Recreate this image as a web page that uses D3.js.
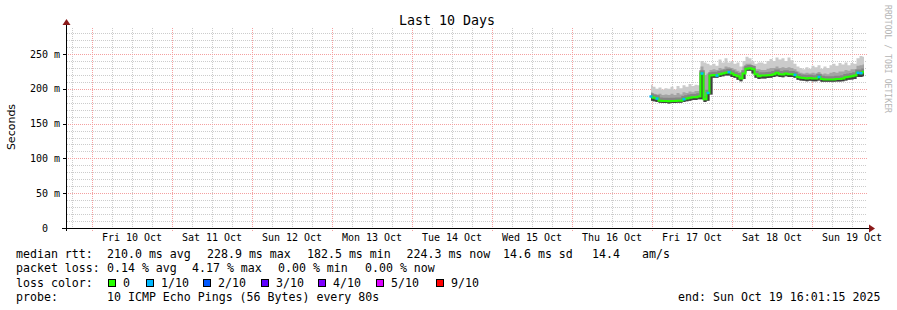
<!DOCTYPE html>
<html><head><meta charset="utf-8">
<script src="https://cdn.jsdelivr.net/npm/d3@7"></script>
<style>
body{margin:0;background:#fff}
svg{display:block}
text{font-family:"DejaVu Sans Mono",monospace;fill:#000}
</style>
</head><body><svg id="c" width="897" height="310"></svg>
<script>
// ---------------- data ----------------
const title = "Last 10 Days";
const dayLabels = ["Fri 10 Oct","Sat 11 Oct","Sun 12 Oct","Mon 13 Oct","Tue 14 Oct","Wed 15 Oct","Thu 16 Oct","Fri 17 Oct","Sat 18 Oct","Sun 19 Oct"];
const yTicks = [0, 50, 100, 150, 200, 250];           // ms
const yTickLabels = ["0", "50 m", "100 m", "150 m", "200 m", "250 m"];
// samples every 54 minutes starting 2025-10-16 23:42
const median = [189,187,186,183,182.5,182.5,182,182.5,182.5,183,183,185,186,187,188,188,189,
  222,185,194,219,220,219,221,222,223,224,222,220,218,215,222,229,229.5,228,221,218,
  219,219,219.5,220,221,223,221,220.5,222,221,221,220,217,216,215.5,215,215.5,215,
  215,217,214,213.5,213.5,213.5,213.5,214,214,215,216.5,217.5,218,219,223,222.5,224.5];
const loss = [1,0,1,0,0,0,0,0,0,0,0,1,0,0,0,0,0,
  1,0,1,0,0,1,0,0,0,1,0,0,0,0,0,0,0,0,0,0,
  0,0,0,0,0,0,0,0,0,0,0,1,0,0,0,0,0,0,
  0,1,0,0,0,0,0,0,0,0,0,0,0,0,1,1,0];
const pingHi = [206,203,200,202,199,201,200,203,199,204,201,205,203,207,204,206,205,
  240,238,236,234,236,233,242,238,244,238,240,236,238,232,240,246,244,240,236,238,
  238,236,240,243,240,245,242,244,240,245,241,236,232,230,228,231,229,233,
  231,234,229,232,230,234,236,233,237,235,238,234,237,236,244,247,246];
const pingUp = [195,193,192,193,191,192,191,193,191,194,192,195,194,196,195,197,197,
  232,220,222,227,228,227,230,229,232,231,230,228,226,224,232,236,236,234,228,228,
  227,227,229,230,230,232,230,231,230,231,230,228,225,223,222,223,222,223,
  222,224,221,222,221,223,224,223,225,225,227,226,228,228,233,234,235];
const pingLo = [183,182,181,180,179.5,179.5,179,179.5,179.5,180,180,181,182,183,184,184,185,
  185,181,183,192,216,216,217,218,219,219,217,216,213,211,214,226,226,222,216,214,
  215,215,215.5,216,217,218,217,216.5,218,217,217,216,213,212,211.5,211,211.5,211,
  211,212,210,210,210,210,210,210.5,210.5,211,212,213,213.5,214,217,217,218];
const lossLabels = ["0","1/10","2/10","3/10","4/10","5/10","9/10"];
const lossColors = ["#26ff00","#00b8ff","#0059ff","#5e00ff","#7e00ff","#dd00ff","#ff0000"];
const rttStats = ["median rtt:","210.0 ms avg","228.9 ms max","182.5 ms min","224.3 ms now","14.6 ms sd","14.4","am/s"];
const lossStats = ["packet loss:","0.14 % avg","4.17 % max","0.00 % min","0.00 % now"];
const probeText = ["probe:","10 ICMP Echo Pings (56 Bytes) every 80s"];
const endText = "end: Sun Oct 19 16:01:15 2025";

// ---------------- layout ----------------
const svg = d3.select("#c");
const start = new Date(Date.UTC(2025,9,9,16,30)), end = new Date(Date.UTC(2025,9,19,16,30));
const x = d3.scaleUtc().domain([start, end]).range([67, 867]);
const y = d3.scaleLinear().domain([0, 287.4]).range([228, 28]);
const t0 = Date.UTC(2025,9,16,23,42), stepMs = 54*60000;
const pts = median.map((m,i)=>({t:new Date(t0+i*stepMs), m, lo:pingLo[i], up:pingUp[i], hi:pingHi[i], loss:loss[i]}));
const px = v => Math.round(v)+0.5;

// grid
const grid = svg.append("g").attr("shape-rendering","crispEdges");
const minorT = d3.utcHour.every(6).range(start, end).filter(t=>t.getUTCHours()!==0);
const majorT = d3.utcDay.range(start, end);
grid.selectAll(".hm").data(d3.range(10,290,10).filter(v=>v%50)).join("line")
  .attr("x1",67).attr("x2",867).attr("y1",d=>px(y(d))).attr("y2",d=>px(y(d)))
  .attr("stroke","#cccccc").attr("stroke-dasharray","1,1");
grid.selectAll(".vm").data(minorT).join("line")
  .attr("x1",d=>px(x(d))).attr("x2",d=>px(x(d))).attr("y1",28).attr("y2",230)
  .attr("stroke","#cccccc").attr("stroke-dasharray","1,1");
grid.selectAll(".hM").data(yTicks.filter(v=>v>0)).join("line")
  .attr("x1",64).attr("x2",867).attr("y1",d=>px(y(d))).attr("y2",d=>px(y(d)))
  .attr("stroke","#f4a0a0").attr("stroke-dasharray","1,1");
grid.selectAll(".vM").data(majorT).join("line")
  .attr("x1",d=>px(x(d))).attr("x2",d=>px(x(d))).attr("y1",28).attr("y2",231)
  .attr("stroke","#f4a0a0").attr("stroke-dasharray","1,1");

// smoke
const area = (a,b)=>d3.area().curve(d3.curveStep).x(d=>x(d.t)).y0(d=>y(d[a])).y1(d=>y(d[b]));
svg.append("path").datum(pts).attr("d",area("lo","hi")).attr("fill","#cbcbcb");
svg.append("path").datum(pts).attr("d",area("lo","up")).attr("fill","#a4a4a4");
svg.append("path").datum(pts).attr("d",d3.line().curve(d3.curveStep).x(d=>x(d.t)).y(d=>y(d.m)-2))
  .attr("fill","none").attr("stroke","#858585").attr("stroke-width",2.5);
svg.append("path").datum(pts).attr("d",area("lo","m")).attr("fill","#404040");

// median
svg.append("path").datum(pts).attr("d",d3.line().curve(d3.curveStep).x(d=>x(d.t)).y(d=>y(d.m)))
  .attr("fill","none").attr("stroke",lossColors[0]).attr("stroke-width",2);
svg.selectAll(".ls").data(pts.filter(d=>d.loss>0)).join("line")
  .attr("x1",d=>x(d.t)-1.5).attr("x2",d=>x(d.t)+1.5).attr("y1",d=>y(d.m)).attr("y2",d=>y(d.m))
  .attr("stroke",d=>lossColors[Math.min(d.loss,6)]).attr("stroke-width",2.5);

// axes
const ax = svg.append("g").attr("shape-rendering","crispEdges");
ax.append("line").attr("x1",62).attr("x2",870).attr("y1",228.5).attr("y2",228.5).attr("stroke","#000");
ax.append("line").attr("x1",66.5).attr("x2",66.5).attr("y1",231).attr("y2",24).attr("stroke","#000");
ax.selectAll(".yt").data(yTicks.filter(v=>v>0)).join("line")
  .attr("x1",63).attr("x2",67).attr("y1",d=>px(y(d))).attr("y2",d=>px(y(d))).attr("stroke","#000");
svg.append("path").attr("d","M869,224.5L875,228.5L869,232.5Z").attr("fill","#8b1a1a");
svg.append("path").attr("d","M62.5,25L66.5,19L70.5,25Z").attr("fill","#8b1a1a");

// tick labels
svg.selectAll(".yl").data(yTicks).join("text")
  .attr("x",(d,i)=>d===0?48:60).attr("y",d=>y(d)+3.6).attr("text-anchor","end")
  .style("font-size","10px").text((d,i)=>yTickLabels[i]);
svg.selectAll(".xl").data(majorT).join("text")
  .attr("x",d=>x(d3.utcHour.offset(d,12))).attr("y",241).attr("text-anchor","middle")
  .style("font-size","10px").text((d,i)=>dayLabels[i]);

// titles
svg.append("text").attr("x",447).attr("y",24.5).attr("text-anchor","middle").style("font-size","13.3px").text(title);
svg.append("text").attr("transform","translate(15,127) rotate(-90)").attr("text-anchor","middle")
  .style("font-family","'DejaVu Sans',sans-serif").style("font-size","11px").text("Seconds");
svg.append("text").attr("transform","translate(885,5) rotate(90)")
  .attr("textLength",108).attr("lengthAdjust","spacingAndGlyphs")
  .style("font-size","9px").style("fill","#b4b4b4").text("RRDTOOL / TOBI OETIKER");

// legend
const lg = svg.append("g").style("font-size","11.6px");
const rttX = [16,107,207,307,406.5,503,592,642];
lg.selectAll(".r1").data(rttStats).join("text").attr("x",(d,i)=>rttX[i]).attr("y",258).text(d=>d);
const lossX = [16,107,192,278,365];
lg.selectAll(".r2").data(lossStats).join("text").attr("x",(d,i)=>lossX[i]).attr("y",272.3).text(d=>d);
lg.append("text").attr("x",16).attr("y",286.6).text("loss color:");
const boxX = [108,146,203,261,318,376,436];
lg.selectAll(".bx").data(lossColors).join("rect")
  .attr("x",(d,i)=>boxX[i]+0.5).attr("y",279.5).attr("width",7).attr("height",7)
  .attr("fill",d=>d).attr("stroke","#000").attr("stroke-width",1).attr("shape-rendering","crispEdges");
lg.selectAll(".bl").data(lossLabels).join("text").attr("x",(d,i)=>boxX[i]+15).attr("y",286.6).text(d=>d);
const probeX = [16,107];
lg.selectAll(".r4").data(probeText).join("text").attr("x",(d,i)=>probeX[i]).attr("y",300.7).text(d=>d);
lg.append("text").attr("x",880.5).attr("y",300.7).attr("text-anchor","end").text(endText);
</script>
</body></html>
